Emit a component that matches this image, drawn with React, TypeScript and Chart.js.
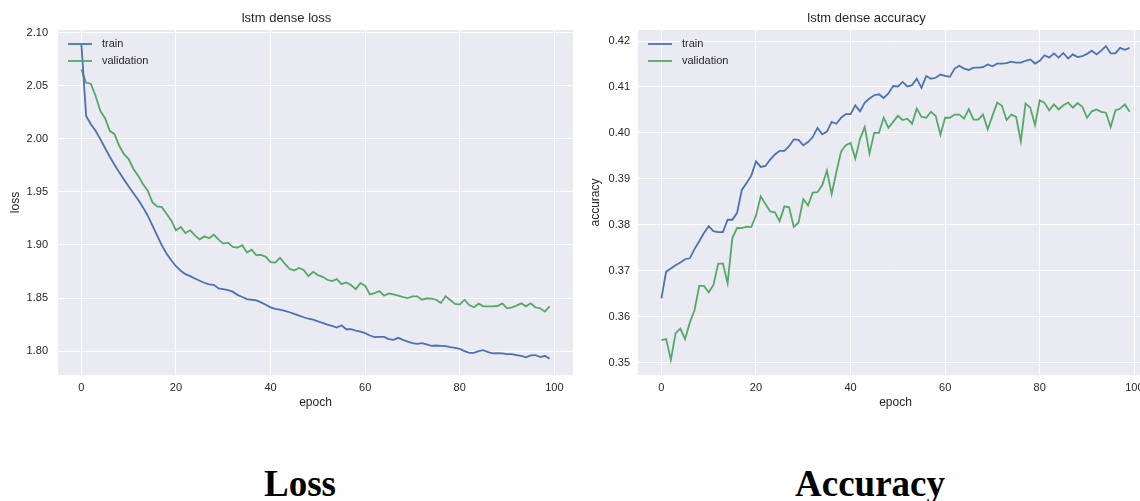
import React, { useEffect, useRef } from "react";
import { Chart, registerables } from "chart.js";

Chart.register(...registerables);

const EPOCHS: number[] = Array.from({ length: 100 }, (_, i) => i);

const LOSS_TRAIN = [
  2.089, 2.0216, 2.0138, 2.0075, 1.9997, 1.9913, 1.9831, 1.9756, 1.9684, 1.9616,
  1.955, 1.9488, 1.9425, 1.9356, 1.9278, 1.9184, 1.909, 1.8997, 1.8919, 1.8856,
  1.88, 1.8756, 1.8725, 1.8706, 1.8684, 1.8663, 1.8644, 1.8628, 1.8625, 1.859,
  1.8584, 1.8575, 1.856, 1.853, 1.851, 1.849, 1.8484, 1.8478, 1.8459, 1.8437,
  1.8412, 1.8397, 1.839, 1.838, 1.8366, 1.835, 1.8334, 1.8319, 1.8305, 1.8297,
  1.828, 1.8266, 1.825, 1.8237, 1.8222, 1.8244, 1.8206, 1.8206, 1.8194, 1.8184,
  1.8169, 1.8147, 1.8131, 1.8134, 1.8134, 1.8113, 1.8106, 1.8125, 1.8106, 1.809,
  1.8075, 1.8069, 1.8075, 1.8063, 1.805, 1.8053, 1.805, 1.8047, 1.8038, 1.8031,
  1.8022, 1.8, 1.7984, 1.7984, 1.8, 1.8009, 1.7991, 1.7978, 1.7981, 1.7978,
  1.7972, 1.7972, 1.7963, 1.7956, 1.7941, 1.7959, 1.7963, 1.7944, 1.7956, 1.7928,
];

const LOSS_VAL = [
  2.0653, 2.0528, 2.0519, 2.0403, 2.0263, 2.0194, 2.0075, 2.0044, 1.9934, 1.9856,
  1.9809, 1.9716, 1.9653, 1.9575, 1.9513, 1.9403, 1.9363, 1.9356, 1.9294, 1.9231,
  1.9138, 1.9169, 1.9113, 1.9138, 1.909, 1.9053, 1.9081, 1.9063, 1.9097, 1.905,
  1.9013, 1.9022, 1.8981, 1.8975, 1.8997, 1.8928, 1.8956, 1.8903, 1.8906, 1.8888,
  1.8838, 1.8834, 1.8878, 1.8825, 1.8775, 1.876, 1.8784, 1.8765, 1.8706, 1.8747,
  1.8716, 1.87, 1.8672, 1.8659, 1.8678, 1.8631, 1.8647, 1.8622, 1.8584, 1.8641,
  1.8616, 1.8534, 1.8547, 1.8566, 1.8522, 1.8544, 1.8534, 1.8522, 1.8509, 1.85,
  1.8516, 1.8516, 1.8484, 1.8497, 1.8494, 1.8484, 1.8453, 1.8516, 1.8481, 1.8444,
  1.8438, 1.8484, 1.8434, 1.8413, 1.8447, 1.8422, 1.8422, 1.8422, 1.8425, 1.845,
  1.8403, 1.8413, 1.8428, 1.845, 1.8422, 1.845, 1.8413, 1.8403, 1.8372, 1.8422,
];

const ACC_TRAIN = [
  0.364, 0.3698, 0.3705, 0.3712, 0.3718, 0.3725, 0.3727, 0.3747, 0.3764, 0.3782,
  0.3797, 0.3786, 0.3784, 0.3784, 0.3811, 0.3811, 0.3826, 0.3876, 0.3891, 0.3907,
  0.3938, 0.3926, 0.3928, 0.3942, 0.3953, 0.3961, 0.3961, 0.3971, 0.3986, 0.3985,
  0.3973, 0.398, 0.3991, 0.4011, 0.3997, 0.4003, 0.4024, 0.402, 0.4033, 0.4041,
  0.4041, 0.406, 0.4047, 0.4066, 0.4075, 0.4082, 0.4084, 0.4076, 0.4086, 0.4102,
  0.4101, 0.4111, 0.4101, 0.4104, 0.4118, 0.4098, 0.4124, 0.4118, 0.412, 0.4127,
  0.4124, 0.4122, 0.414, 0.4146, 0.414, 0.4137, 0.4142, 0.4142, 0.4143, 0.4149,
  0.4145, 0.4151, 0.4151, 0.4152, 0.4155, 0.4153, 0.4153, 0.4157, 0.416, 0.4151,
  0.4157, 0.4169, 0.4164, 0.4173, 0.4164, 0.4174, 0.4162, 0.4171, 0.4165, 0.4167,
  0.4172, 0.4179, 0.4171, 0.4179, 0.4189, 0.4173, 0.4173, 0.4185, 0.4181, 0.4185,
];

const ACC_VAL = [
  0.3549, 0.3551, 0.3506, 0.3564, 0.3574, 0.3551, 0.3587, 0.3614, 0.3667, 0.3667,
  0.3653, 0.3669, 0.3715, 0.3716, 0.3673, 0.3771, 0.3793, 0.3793, 0.3796, 0.3795,
  0.382, 0.3862, 0.3845, 0.3829, 0.3827, 0.3808, 0.384, 0.3838, 0.3795, 0.3805,
  0.3856, 0.3842, 0.387, 0.3871, 0.3886, 0.3918, 0.3867, 0.3915, 0.396, 0.3973,
  0.3978, 0.3944, 0.3987, 0.4013, 0.3955, 0.4, 0.4, 0.4033, 0.4011, 0.4024,
  0.4037, 0.4028, 0.4031, 0.402, 0.4053, 0.4035, 0.4033, 0.4046, 0.4037, 0.3996,
  0.4033, 0.4033, 0.404, 0.404, 0.4031, 0.4052, 0.4029, 0.4029, 0.404, 0.4008,
  0.4037, 0.4066, 0.4059, 0.4028, 0.404, 0.4035, 0.3982, 0.4064, 0.4055, 0.4017,
  0.4071, 0.4066, 0.4049, 0.4062, 0.4051, 0.406, 0.4066, 0.4055, 0.4065, 0.4057,
  0.4033, 0.4047, 0.4051, 0.4046, 0.4044, 0.4013, 0.4049, 0.4053, 0.4062, 0.4046,
];

const SERIES_LABELS = ["train", "validation"];
const SERIES_COLORS = ["#4C72B0", "#55A868"];
const TEXT_COLOR = "#262626";
const FONT = "'Liberation Sans', Arial, sans-serif";

const bgPlugin = {
  id: "sbBackground",
  beforeDraw(chart: any) {
    const { ctx, chartArea } = chart;
    ctx.save();
    ctx.fillStyle = "#EAEAF2";
    ctx.fillRect(chartArea.left, chartArea.top, chartArea.right - chartArea.left, chartArea.bottom - chartArea.top);
    ctx.restore();
  },
};

const insideLegend = {
  id: "insideLegend",
  afterDatasetsDraw(chart: any) {
    const { ctx, chartArea } = chart;
    ctx.save();
    chart.data.datasets.forEach((ds: any, i: number) => {
      const y = chartArea.top + 14 + i * 17;
      ctx.strokeStyle = ds.borderColor;
      ctx.lineWidth = 1.8;
      ctx.beginPath();
      ctx.moveTo(chartArea.left + 10, y);
      ctx.lineTo(chartArea.left + 34, y);
      ctx.stroke();
      ctx.fillStyle = TEXT_COLOR;
      ctx.font = `11px ${FONT}`;
      ctx.textBaseline = "middle";
      ctx.textAlign = "left";
      ctx.fillText(ds.label, chartArea.left + 44, y);
    });
    ctx.restore();
  },
};

type PanelProps = {
  title: string;
  yLabel: string;
  train: number[];
  val: number[];
  yMin: number;
  yMax: number;
  yStep: number;
  yPad: number;
  left: number;
};

function Panel({ title, yLabel, train, val, yMin, yMax, yStep, yPad, left }: PanelProps) {
  const ref = useRef<HTMLCanvasElement>(null);
  useEffect(() => {
    const series = [train, val];
    const chart = new Chart(ref.current as HTMLCanvasElement, {
      type: "line",
      data: {
        datasets: series.map((s, k) => ({
          label: SERIES_LABELS[k],
          data: EPOCHS.map((e, i) => ({ x: e, y: s[i] })),
          borderColor: SERIES_COLORS[k],
          backgroundColor: SERIES_COLORS[k],
          borderWidth: 1.8,
          pointRadius: 0,
          tension: 0,
          fill: false,
        })),
      },
      options: {
        responsive: false,
        animation: false,
        layout: { padding: { left: 0, right: 7, top: 0, bottom: 0 } },
        plugins: {
          legend: { display: false },
          tooltip: { enabled: false },
          title: {
            display: true,
            text: title,
            color: TEXT_COLOR,
            font: { family: FONT, size: 13, weight: "normal" },
            padding: { top: 10.8, bottom: 3.6 },
          },
        },
        scales: {
          x: {
            type: "linear",
            min: -4.95,
            max: 103.95,
            afterFit: (s: any) => {
              s.height = 45;
            },
            ticks: {
              stepSize: 20,
              includeBounds: false,
              padding: 6,
              color: TEXT_COLOR,
              font: { family: FONT, size: 11 },
              callback: (v: any) => String(v),
            },
            grid: { color: "#FFFFFF", lineWidth: 1, drawTicks: false },
            border: { display: false },
            title: {
              display: true,
              text: "epoch",
              color: TEXT_COLOR,
              font: { family: FONT, size: 12 },
              padding: { top: 0, bottom: 10 },
            },
          },
          y: {
            type: "linear",
            min: yMin,
            max: yMax,
            afterFit: (s: any) => {
              s.width = 58;
            },
            ticks: {
              stepSize: yStep,
              includeBounds: false,
              padding: yPad,
              color: TEXT_COLOR,
              font: { family: FONT, size: 11 },
              callback: (v: any) => Number(v).toFixed(2),
            },
            grid: { color: "#FFFFFF", lineWidth: 1, drawTicks: false },
            border: { display: false },
            title: {
              display: true,
              text: yLabel,
              color: TEXT_COLOR,
              font: { family: FONT, size: 12 },
              padding: { top: 8.8, bottom: 0 },
            },
          },
        },
      },
      plugins: [bgPlugin, insideLegend],
    } as any);
    return () => chart.destroy();
  }, []);
  return (
    <canvas
      ref={ref}
      width={580}
      height={420}
      style={{ position: "absolute", left, top: 0, width: 580, height: 420 }}
    />
  );
}

const captionStyle: React.CSSProperties = {
  position: "absolute",
  top: 465,
  fontFamily: "'Liberation Serif', 'Times New Roman', serif",
  fontWeight: "bold",
  fontSize: 37,
  lineHeight: "37px",
  color: "#000",
  textAlign: "center",
  width: 300,
  whiteSpace: "nowrap",
};

export default function App() {
  return (
    <div
      style={{
        position: "absolute",
        left: 0,
        top: 0,
        width: 1140,
        height: 501,
        overflow: "hidden",
        background: "#FFFFFF",
      }}
    >
      <Panel
        title="lstm dense loss"
        yLabel="loss"
        train={LOSS_TRAIN}
        val={LOSS_VAL}
        yMin={1.7775}
        yMax={2.1025}
        yStep={0.05}
        yPad={10}
        left={0}
      />
      <Panel
        title="lstm dense accuracy"
        yLabel="accuracy"
        train={ACC_TRAIN}
        val={ACC_VAL}
        yMin={0.3473}
        yMax={0.4224}
        yStep={0.01}
        yPad={8}
        left={580}
      />
      <div style={{ ...captionStyle, left: 150 }}>Loss</div>
      <div style={{ ...captionStyle, left: 720 }}>Accuracy</div>
    </div>
  );
}
